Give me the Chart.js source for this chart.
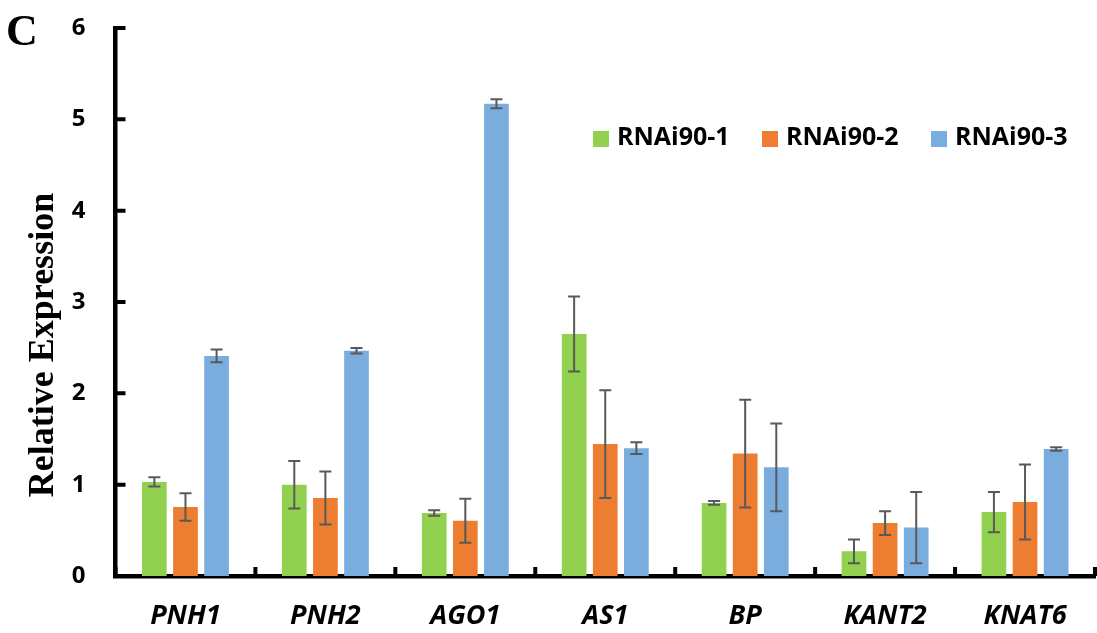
<!DOCTYPE html>
<html><head><meta charset="utf-8">
<script src="https://cdn.jsdelivr.net/npm/chart.js@4.4.0/dist/chart.umd.min.js"></script>
<style>html,body{margin:0;padding:0;background:#fff;}#wrap{width:1097px;height:633px;position:relative;}</style>
</head><body><div id="wrap"><canvas id="c" width="1097" height="633"></canvas></div>
<script>
const categories = ['PNH1','PNH2','AGO1','AS1','BP','KANT2','KNAT6'];
const seriesNames = ['RNAi90-1','RNAi90-2','RNAi90-3'];
const rnai1 = [1.03, 1.00, 0.69, 2.65, 0.80, 0.27, 0.70];
const rnai1Err = [0.05, 0.26, 0.03, 0.41, 0.02, 0.13, 0.22];
const rnai2 = [0.755, 0.855, 0.605, 1.445, 1.34, 0.58, 0.81];
const rnai2Err = [0.15, 0.29, 0.24, 0.59, 0.59, 0.13, 0.41];
const rnai3 = [2.41, 2.465, 5.17, 1.40, 1.19, 0.53, 1.39];
const rnai3Err = [0.07, 0.03, 0.05, 0.065, 0.48, 0.39, 0.02];
const yTicks = [0,1,2,3,4,5,6];
const colors = ['#92D050','#ED7D31','#7AADDE'];

const errs = [rnai1Err, rnai2Err, rnai3Err];
const SANS = '"Open Sans"';

const decor = {
  id: 'decor',
  afterDatasetsDraw(chart) {
    const ctx = chart.ctx, y = chart.scales.y, x = chart.scales.x, ca = chart.chartArea;
    ctx.save();
    // error bars
    ctx.strokeStyle = '#595959'; ctx.lineWidth = 2;
    chart.data.datasets.forEach((ds, di) => {
      const meta = chart.getDatasetMeta(di);
      meta.data.forEach((bar, i) => {
        const v = ds.data[i], e = errs[di][i];
        const yt = y.getPixelForValue(v + e), yb = y.getPixelForValue(v - e);
        const cx = bar.x;
        ctx.beginPath();
        ctx.moveTo(cx, yt); ctx.lineTo(cx, yb);
        ctx.moveTo(cx - 6, yt); ctx.lineTo(cx + 6, yt);
        ctx.moveTo(cx - 6, yb); ctx.lineTo(cx + 6, yb);
        ctx.stroke();
      });
    });
    // inward ticks
    ctx.strokeStyle = '#000'; ctx.lineWidth = 4;
    ctx.beginPath();
    yTicks.forEach(t => { const py = y.getPixelForValue(t); ctx.moveTo(ca.left, py); ctx.lineTo(ca.left + 10, py); });
    for (let i = 0; i <= categories.length; i++) {
      const px = x.getPixelForValue(i - 0.5);
      ctx.moveTo(px, ca.bottom); ctx.lineTo(px, ca.bottom - 9);
    }
    ctx.stroke();
    // legend
    const lx = [593, 762, 931];
    ctx.font = 'bold 25px ' + SANS;
    ctx.textBaseline = 'middle'; ctx.textAlign = 'left';
    chart.data.datasets.forEach((ds, di) => {
      ctx.fillStyle = ds.backgroundColor;
      ctx.fillRect(lx[di], 131, 16, 16);
      ctx.fillStyle = '#000';
      ctx.fillText(ds.label, lx[di] + 24, 138);
    });
    // axis title
    ctx.font = 'bold 36px "Liberation Serif"';
    ctx.textAlign = 'center'; ctx.textBaseline = 'alphabetic';
    ctx.translate(53, 345); ctx.rotate(-Math.PI / 2);
    ctx.fillText('Relative Expression', 0, 0);
    ctx.restore();
    ctx.save();
    ctx.font = 'bold 44px "Liberation Serif"';
    ctx.fillStyle = '#000'; ctx.textAlign = 'left'; ctx.textBaseline = 'alphabetic';
    ctx.fillText('C', 6, 45);
    ctx.restore();
  }
};

new Chart(document.getElementById('c'), {
  type: 'bar',
  data: {
    labels: categories,
    datasets: [
      { label: seriesNames[0], data: rnai1, backgroundColor: colors[0] },
      { label: seriesNames[1], data: rnai2, backgroundColor: colors[1] },
      { label: seriesNames[2], data: rnai3, backgroundColor: colors[2] }
    ]
  },
  options: {
    responsive: false, animation: false,
    layout: { padding: { top: 28, right: 2, left: 0, bottom: 0 } },
    datasets: { bar: { categoryPercentage: 0.667, barPercentage: 0.794 } },
    plugins: { legend: { display: false }, tooltip: { enabled: false } },
    scales: {
      x: {
        grid: { display: false, drawTicks: false },
        border: { display: true, color: '#000', width: 4.5 },
        ticks: { color: '#000', padding: 24, font: { family: SANS, size: 27, weight: 'bold', style: 'italic' } },
        afterFit(s) { s.height = 57; s.paddingLeft = 0; s.paddingRight = 0; }
      },
      y: {
        min: 0, max: 6,
        afterBuildTicks(s) { s.ticks = yTicks.map(v => ({ value: v })); },
        grid: { display: false, drawTicks: false },
        border: { display: true, color: '#000', width: 4.5 },
        ticks: { color: '#000', padding: 30, font: { family: SANS, size: 24, weight: 'bold' } },
        afterFit(s) { s.width = 115.5; s.paddingTop = 0; s.paddingBottom = 0; }
      }
    }
  },
  plugins: [decor]
});
</script></body></html>
